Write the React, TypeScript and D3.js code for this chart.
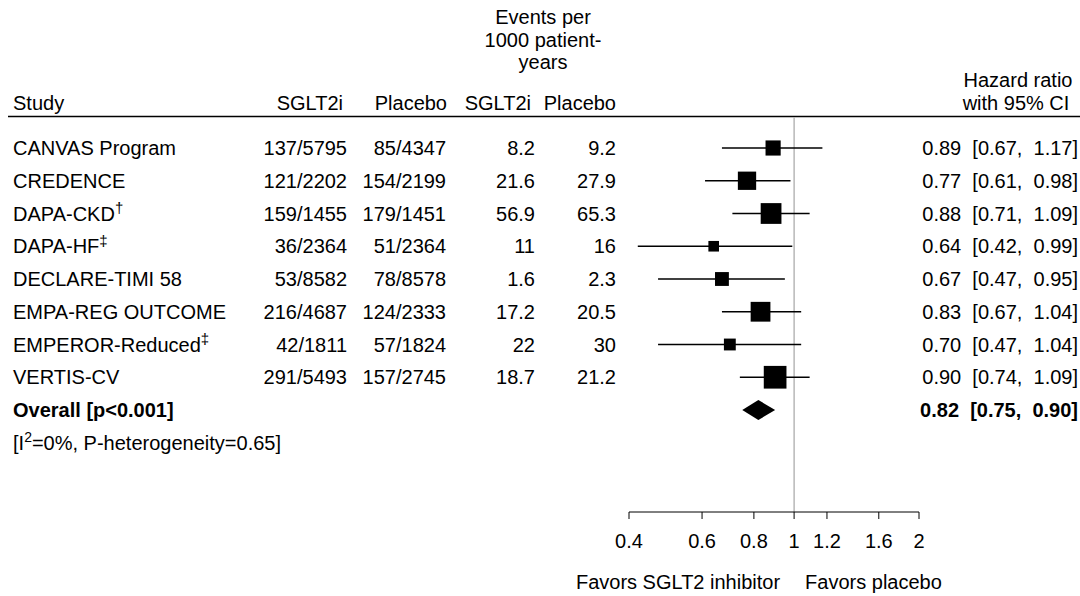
import * as d3 from 'd3'

const studies = [
  'CANVAS Program',
  'CREDENCE',
  'DAPA-CKD',
  'DAPA-HF',
  'DECLARE-TIMI 58',
  'EMPA-REG OUTCOME',
  'EMPEROR-Reduced',
  'VERTIS-CV',
]
const footnotes = ['', '', '†', '‡', '', '', '‡', '']
const sglt2Events = ['137/5795', '121/2202', '159/1455', '36/2364', '53/8582', '216/4687', '42/1811', '291/5493']
const placeboEvents = ['85/4347', '154/2199', '179/1451', '51/2364', '78/8578', '124/2333', '57/1824', '157/2745']
const sglt2Rates = ['8.2', '21.6', '56.9', '11', '1.6', '17.2', '22', '18.7']
const placeboRates = ['9.2', '27.9', '65.3', '16', '2.3', '20.5', '30', '21.2']
const hazardRatios = [0.89, 0.77, 0.88, 0.64, 0.67, 0.83, 0.7, 0.9]
const lowerCI = [0.67, 0.61, 0.71, 0.42, 0.47, 0.67, 0.47, 0.74]
const upperCI = [1.17, 0.98, 1.09, 0.99, 0.95, 1.04, 1.04, 1.09]
const weights = [9.8, 14.3, 18.4, 4.8, 8.2, 16.7, 6.0, 22.0]

const overallHR = 0.82
const overallLower = 0.75
const overallUpper = 0.9

const xTicks = [0.4, 0.6, 0.8, 1, 1.2, 1.6, 2]

const font = '"Liberation Sans", Arial, Helvetica, sans-serif'

function formatHR(est: number, lo: number, hi: number) {
  return `${est.toFixed(2)}  [${lo.toFixed(2)},  ${hi.toFixed(2)}]`
}

export default function App() {
  const width = 1080
  const height = 596
  const x = d3.scaleLog().domain([0.4, 2]).range([629, 919])
  const row = d3.scaleLinear().domain([0, 1]).range([148, 180.75])
  const boxSize = d3.scaleSqrt().domain([0, 10]).range([0, 15.3])
  const overallY = row(8)
  const hetY = row(9)
  const headerY = 103
  const lineY = 116.5
  const axisY = 512
  const fs = 20

  const col = { study: 13, sglt2: 347, placebo: 446, rate1: 535, rate2: 616, hr: 1078 }
  const pre = { whiteSpace: 'pre' as const }

  return (
    <svg
      width={width}
      height={height}
      viewBox={`0 0 ${width} ${height}`}
      style={{ position: 'absolute', left: 0, top: 0, background: '#fff' }}
      fontFamily={font}
      fontSize={fs}
      fill="#000"
    >
      {/* header */}
      {['Events per', '1000 patient-', 'years'].map((t, i) => (
        <text key={t} x={543} y={17 + i * 22.5} dy="0.36em" textAnchor="middle">
          {t}
        </text>
      ))}
      <text x={1018} y={80} dy="0.36em" textAnchor="middle">Hazard ratio</text>
      <text x={1016} y={headerY} dy="0.36em" textAnchor="middle">with 95% CI</text>
      <text x={col.study} y={headerY} dy="0.36em">Study</text>
      <text x={343} y={headerY} dy="0.36em" textAnchor="end">SGLT2i</text>
      <text x={447} y={headerY} dy="0.36em" textAnchor="end">Placebo</text>
      <text x={531} y={headerY} dy="0.36em" textAnchor="end">SGLT2i</text>
      <text x={616} y={headerY} dy="0.36em" textAnchor="end">Placebo</text>
      <line x1={8} x2={width} y1={lineY} y2={lineY} stroke="#000" strokeWidth={1.6} />

      {/* reference line */}
      <line x1={x(1)} x2={x(1)} y1={lineY + 1} y2={axisY} stroke="#a6a6a6" strokeWidth={1.2} />

      {/* study rows */}
      {studies.map((s, i) => {
        const y = row(i)
        const size = boxSize(weights[i])
        return (
          <g key={s}>
            <text x={col.study} y={y} dy="0.36em">
              {s}
              {footnotes[i] ? (
                <tspan fontSize={15} dy="-0.5em">{footnotes[i]}</tspan>
              ) : null}
            </text>
            <text x={col.sglt2} y={y} dy="0.36em" textAnchor="end">{sglt2Events[i]}</text>
            <text x={col.placebo} y={y} dy="0.36em" textAnchor="end">{placeboEvents[i]}</text>
            <text x={col.rate1} y={y} dy="0.36em" textAnchor="end">{sglt2Rates[i]}</text>
            <text x={col.rate2} y={y} dy="0.36em" textAnchor="end">{placeboRates[i]}</text>
            <line x1={x(lowerCI[i])} x2={x(upperCI[i])} y1={y} y2={y} stroke="#000" strokeWidth={1.3} />
            <rect
              x={x(hazardRatios[i]) - size / 2}
              y={y - size / 2}
              width={size}
              height={size}
              fill="#000"
            />
            <text x={col.hr} y={y} dy="0.36em" textAnchor="end" style={pre}>
              {formatHR(hazardRatios[i], lowerCI[i], upperCI[i])}
            </text>
          </g>
        )
      })}

      {/* overall */}
      <text x={col.study} y={overallY} dy="0.36em" fontWeight="bold">Overall [p&lt;0.001]</text>
      <path
        d={`M${x(overallLower)},${overallY} L${x(overallHR)},${overallY - 10} L${x(overallUpper)},${overallY} L${x(overallHR)},${overallY + 10} Z`}
        fill="#000"
      />
      <text x={col.hr} y={overallY} dy="0.36em" textAnchor="end" fontWeight="bold" style={pre}>
        {formatHR(overallHR, overallLower, overallUpper)}
      </text>
      <text x={col.study} y={hetY} dy="0.36em">
        [I<tspan fontSize={14} dy="-0.55em">2</tspan>
        <tspan dy="0.385em">=0%, P-heterogeneity=0.65]</tspan>
      </text>

      {/* axis */}
      <line x1={x(0.4)} x2={x(2)} y1={axisY} y2={axisY} stroke="#000" strokeWidth={1} />
      {xTicks.map((t) => (
        <g key={t} transform={`translate(${x(t)},0)`}>
          <line y1={axisY} y2={axisY + 7} stroke="#000" strokeWidth={1} />
          <text y={541} dy="0.36em" textAnchor="middle">{d3.format('~g')(t)}</text>
        </g>
      ))}
      <text x={x(1) - 14} y={582} dy="0.36em" textAnchor="end">Favors SGLT2 inhibitor</text>
      <text x={x(1) + 11} y={582} dy="0.36em">Favors placebo</text>
    </svg>
  )
}
